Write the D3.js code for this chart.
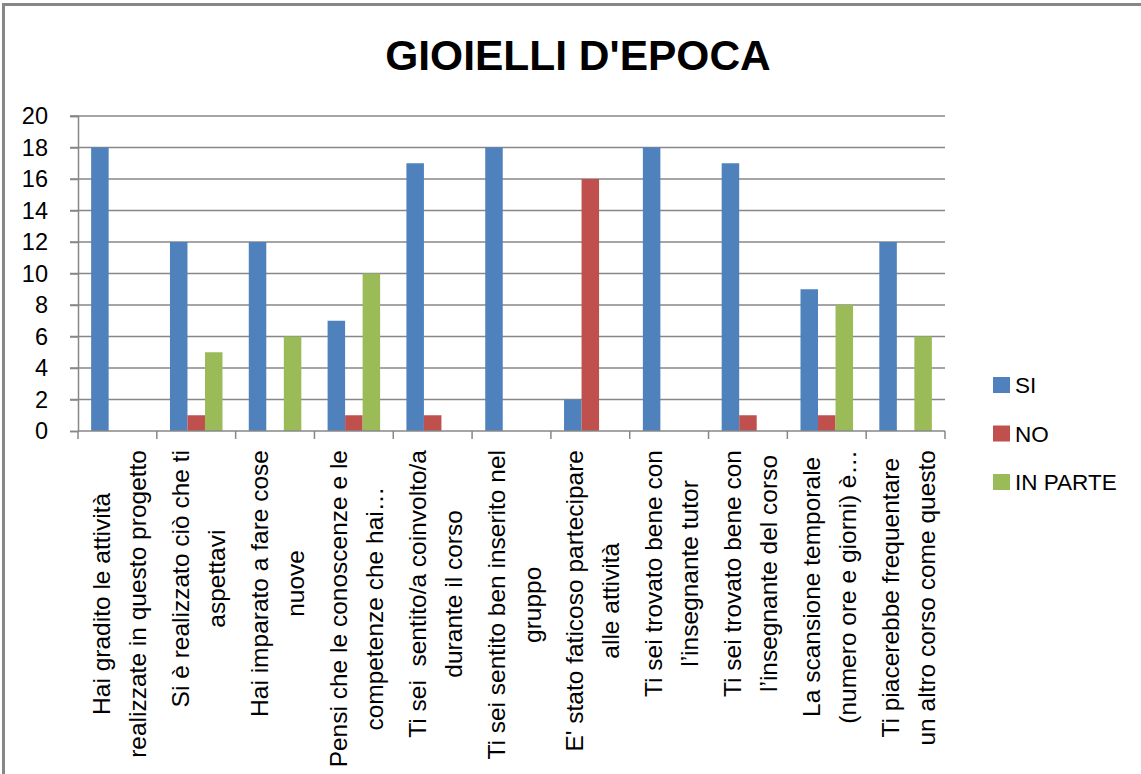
<!DOCTYPE html>
<html>
<head>
<meta charset="utf-8">
<script src="https://cdn.jsdelivr.net/npm/d3@7"></script>
<style>
	body { margin: 0; background: #fff; }
	svg text { font-family: "Liberation Sans", Arial, sans-serif; fill: #000; white-space: pre; }
</style>
</head>
<body>
<div id="grafico"></div>
<script>
// dati del grafico
const domande = [
	["Hai gradito le attività", "realizzate in questo progetto"],
	["Si è realizzato ciò che ti", "aspettavi"],
	["Hai imparato a fare cose", "nuove"],
	["Pensi che le conoscenze e le", "competenze che hai…"],
	["Ti sei  sentito/a coinvolto/a", "durante il corso"],
	["Ti sei sentito ben inserito nel", "gruppo"],
	["E' stato faticoso partecipare", "alle attività"],
	["Ti sei trovato bene con", "l’insegnante tutor"],
	["Ti sei trovato bene con", "l’insegnante del corso"],
	["La scansione temporale", "(numero ore e giorni) è…"],
	["Ti piacerebbe frequentare", "un altro corso come questo"]
];
const serie = ["SI", "NO", "IN PARTE"];
const valoriSI = [18, 12, 12, 7, 17, 18, 2, 18, 17, 9, 12];
const valoriNO = [0, 1, 0, 1, 1, 0, 16, 0, 1, 1, 0];
const valoriInParte = [0, 5, 6, 10, 0, 0, 0, 0, 0, 8, 6];
const yTicks = [0, 2, 4, 6, 8, 10, 12, 14, 16, 18, 20];
const colori = ["#4f81bd", "#c0504d", "#9bbb59"];

const width = 1141, height = 774;
const xSin = 78, xDes = 945, yAlto = 116, yBasso = 431;
const grigio = "#878787";

const svg = d3.select("#grafico")
	.append("svg")
	.attr("width", width)
	.attr("height", height);

// bordo (solo sopra e a sinistra sono visibili)
svg.append("path")
	.attr("d", "M3.5," + height + "V4.5H" + width)
	.attr("fill", "none")
	.attr("stroke", grigio)
	.attr("stroke-width", 3);

// titolo
svg.append("text")
	.attr("x", 578)
	.attr("y", 70)
	.attr("text-anchor", "middle")
	.style("font-weight", "bold")
	.style("font-size", "42.5px")
	.text("GIOIELLI D'EPOCA");

const x = d3.scaleBand()
	.domain(d3.range(domande.length))
	.range([xSin, xDes]);

const xs = d3.scaleBand()
	.domain(serie)
	.range([0, x.bandwidth()])
	.paddingOuter(0.75);

const y = d3.scaleLinear()
	.domain([0, 20])
	.range([yBasso, yAlto]);

// griglia
svg.append("g")
	.selectAll("line")
	.data(yTicks.filter(d => d > 0))
	.enter()
	.append("line")
	.attr("x1", xSin - 8)
	.attr("x2", xDes)
	.attr("y1", d => y(d))
	.attr("y2", d => y(d))
	.attr("stroke", grigio)
	.attr("stroke-width", 1.5);

// asse y
const assey = svg.append("g")
	.attr("transform", "translate(" + xSin + ",0)")
	.call(d3.axisLeft(y).tickValues(yTicks).tickSize(8).tickPadding(22));
assey.select(".domain").attr("stroke", grigio).attr("stroke-width", 1.5);
assey.selectAll(".tick line").attr("stroke", grigio).attr("stroke-width", 1.5);
assey.selectAll("text")
	.style("font-size", "23.5px")
	.attr("fill", "#000")
	.attr("font-family", null);

// barre
const valori = [valoriSI, valoriNO, valoriInParte];
const barre = svg.append("g");
serie.forEach(function(s, j) {
	barre.selectAll("rect.s" + j)
		.data(valori[j])
		.enter()
		.append("rect")
		.attr("class", "s" + j)
		.attr("x", (d, i) => x(i) + xs(s))
		.attr("width", xs.bandwidth())
		.attr("y", d => y(d))
		.attr("height", d => y(0) - y(d))
		.attr("fill", colori[j]);
});

// asse x
svg.append("line")
	.attr("x1", xSin).attr("x2", xDes)
	.attr("y1", yBasso).attr("y2", yBasso)
	.attr("stroke", grigio)
	.attr("stroke-width", 1.5);

svg.append("g")
	.selectAll("line")
	.data(d3.range(domande.length + 1))
	.enter()
	.append("line")
	.attr("x1", i => i < domande.length ? x(i) : xDes)
	.attr("x2", i => i < domande.length ? x(i) : xDes)
	.attr("y1", yBasso)
	.attr("y2", yBasso + 8)
	.attr("stroke", grigio)
	.attr("stroke-width", 1.5);

// etichette ruotate, righe centrate tra loro, blocco allineato in alto
const etichette = svg.append("g");
domande.forEach(function(righe, i) {
	const cx = x(i) + x.bandwidth() / 2;
	const g = etichette.append("g")
		.attr("transform", "translate(" + cx + ",450) rotate(-90)");
	const t = g.selectAll("text")
		.data(righe)
		.enter()
		.append("text")
		.style("font-size", "24.5px")
		.attr("text-anchor", "middle")
		.attr("y", (d, k) => -7 + 36 * k)
		.text(d => d);
	let w = 0;
	t.each(function() { w = Math.max(w, this.getComputedTextLength()); });
	t.attr("x", -w / 2);
});

// legenda
const legenda = svg.append("g");
serie.forEach(function(s, j) {
	const ly = 385 + j * 48.5;
	legenda.append("rect")
		.attr("x", 993)
		.attr("y", ly - 8)
		.attr("width", 17)
		.attr("height", 16)
		.attr("fill", colori[j]);
	legenda.append("text")
		.attr("x", 1015)
		.attr("y", ly + 8)
		.style("font-size", "22.5px")
		.text(s);
});
</script>
</body>
</html>
